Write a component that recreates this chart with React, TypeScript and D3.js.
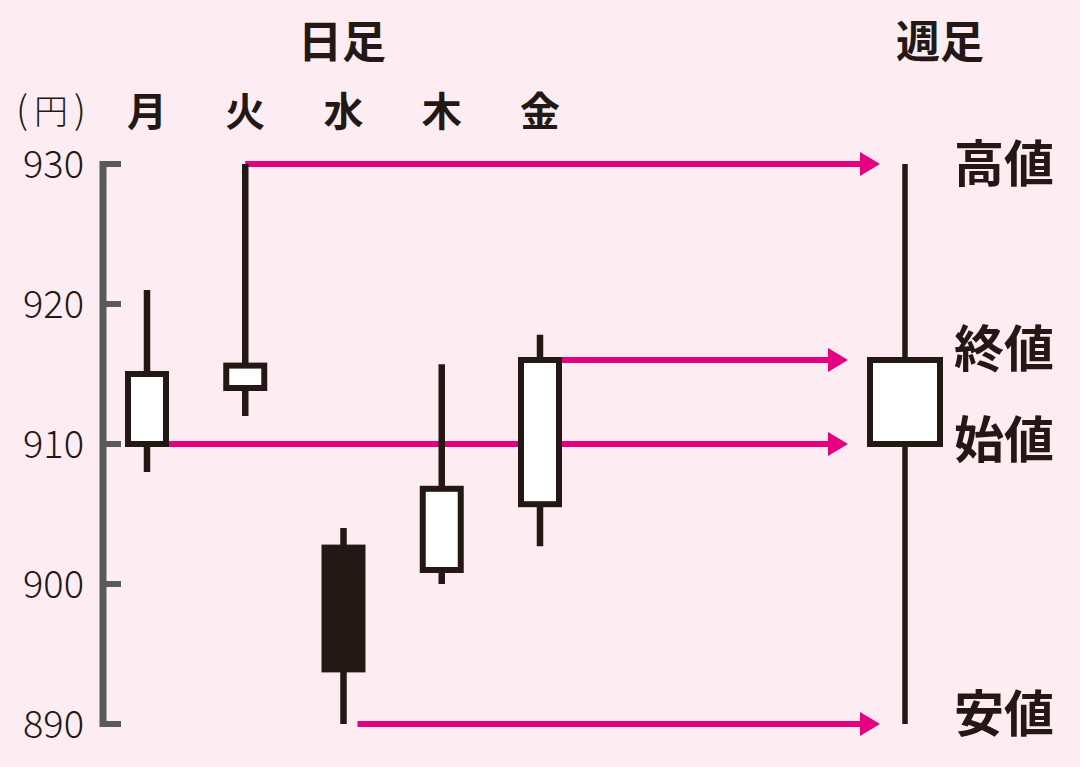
import React from 'react';
import * as d3 from 'd3';

const days = ['月', '火', '水', '木', '金'];
const opens = [910, 914, 902.6, 901, 905.7];
const closes = [915, 915.6, 893.9, 906.8, 916];
const highs = [921, 930, 904, 915.7, 917.8];
const lows = [908, 912, 890, 900, 902.7];

const weekly = { open: 910, close: 916, high: 930, low: 890 };
const yTicks = [890, 900, 910, 920, 930];

const labels = ['高値', '終値', '始値', '安値'];
const labelValues = [930, 916, 910, 890];

const INK = '#231815';
const PINK = '#e4007f';
const FONT = '"Noto Sans CJK JP", "Noto Sans", sans-serif';

const App = () => {
  const W = 1080;
  const H = 767;
  const y = d3.scaleLinear().domain([890, 930]).range([724, 164]);
  const x = d3.scalePoint().domain(days).range([147, 540]);
  const weekX = 905;
  const bodyW = 38;
  const weekBodyW = 70;

  // arrows: start point, value, tip
  const arrows = [
    { x0: x('火'), v: weekly.high, x1: 880 },
    { x0: x('金') + bodyW / 2 + 3, v: weekly.close, x1: 848 },
    { x0: x('月') + bodyW / 2 + 3, v: weekly.open, x1: 848 },
    { x0: x('水') + 14, v: weekly.low, x1: 880 },
  ];

  return (
    <svg width={W} height={H} style={{ position: 'absolute', left: 0, top: 0, background: '#fdedf3' }}>
      <rect width={W} height={H} fill="#fdedf3" />

      <text x={342} y={58} textAnchor="middle" fontFamily={FONT} fontWeight="bold" fontSize={44} fill={INK}>日足</text>
      <text x={940} y={58} textAnchor="middle" fontFamily={FONT} fontWeight="bold" fontSize={44} fill={INK}>週足</text>
      <g fontFamily={FONT} fontWeight={300} fill={INK} textAnchor="middle">
        <text x={22} y={124} fontSize={38}>(</text>
        <text x={51} y={124} fontSize={34}>円</text>
        <text x={80} y={124} fontSize={38}>)</text>
      </g>
      {days.map(d => (
        <text key={d} x={x(d)} y={126} textAnchor="middle" fontFamily={FONT} fontWeight="bold" fontSize={40} fill={INK}>{d}</text>
      ))}

      {/* y axis */}
      <line x1={103} x2={103} y1={y(930) - 3} y2={y(890) + 3} stroke="#5a5a5a" strokeWidth={7} />
      {yTicks.map(t => (
        <g key={t}>
          <line x1={103} x2={121} y1={y(t)} y2={y(t)} stroke="#5a5a5a" strokeWidth={6} />
          <text x={84} y={y(t) + 14} textAnchor="end" fontFamily={FONT} fontWeight={300} fontSize={38} fill={INK}>{t}</text>
        </g>
      ))}

      {/* arrows */}
      {arrows.map((a, i) => (
        <g key={i}>
          <line x1={a.x0} x2={a.x1 - 18} y1={y(a.v)} y2={y(a.v)} stroke={PINK} strokeWidth={6} />
          <path d={`M${a.x1},${y(a.v)} L${a.x1 - 20},${y(a.v) - 12} L${a.x1 - 20},${y(a.v) + 12} Z`} fill={PINK} />
        </g>
      ))}

      {/* daily candles */}
      {days.map((d, i) => {
        const up = closes[i] >= opens[i];
        const top = y(Math.max(opens[i], closes[i]));
        const bot = y(Math.min(opens[i], closes[i]));
        const cx = x(d);
        return (
          <g key={d}>
            <line x1={cx} x2={cx} y1={y(highs[i])} y2={y(lows[i])} stroke={INK} strokeWidth={6.5} />
            <rect x={cx - bodyW / 2} y={top} width={bodyW} height={bot - top}
              fill={up ? '#ffffff' : INK} stroke={INK} strokeWidth={6} />
          </g>
        );
      })}

      {/* weekly candle */}
      <line x1={weekX} x2={weekX} y1={y(weekly.high)} y2={y(weekly.low)} stroke={INK} strokeWidth={5.5} />
      <rect x={weekX - weekBodyW / 2} y={y(weekly.close)} width={weekBodyW}
        height={y(weekly.open) - y(weekly.close)} fill="#ffffff" stroke={INK} strokeWidth={6} />

      {labels.map((l, i) => {
        const v = labelValues[i];
        const dy = l === '高値' ? 18 : l === '終値' ? 7 : l === '始値' ? 14 : 8;
        return (
          <text key={l} x={954} y={y(v) + dy} fontFamily={FONT} fontWeight="bold" fontSize={50} fill={INK}>{l}</text>
        );
      })}
    </svg>
  );
};

export default App;
